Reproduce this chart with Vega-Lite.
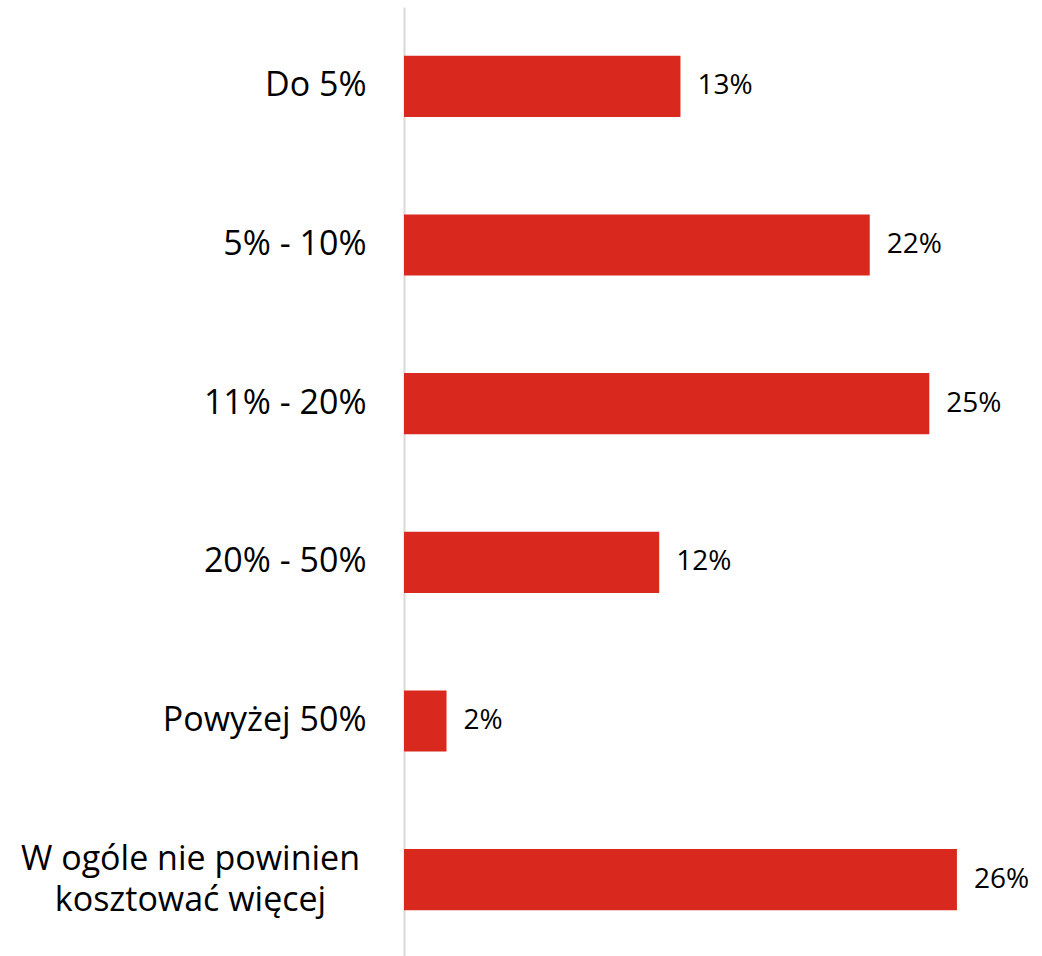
{
  "$schema": "https://vega.github.io/schema/vega-lite/v6.json",
  "autosize": {"type": "none"},
  "padding": {"left": 404, "top": 7, "right": 0, "bottom": 0},
  "width": 638,
  "height": 952,
  "background": "white",
  "config": {"view": {"stroke": null}, "font": "Open Sans", "axisY": {"labelLineHeight": 41}},
  "data": {
    "values": [
      {"category": "Do 5%", "value": 0.13},
      {"category": "5% - 10%", "value": 0.219},
      {"category": "11% - 20%", "value": 0.247},
      {"category": "20% - 50%", "value": 0.12},
      {"category": "Powyżej 50%", "value": 0.02},
      {"category": "W ogóle nie powinien kosztować więcej", "value": 0.26}
    ]
  },
  "encoding": {
    "y": {
      "field": "category",
      "type": "nominal",
      "sort": null,
      "scale": {"paddingInner": 0.614, "paddingOuter": 0.307},
      "axis": {
        "title": null,
        "ticks": false,
        "domainColor": "#D9D9D9",
        "domainWidth": 2,
        "labelFont": "Open Sans",
        "labelFontSize": 34,
        "labelColor": "#000000",
        "labelLimit": 500,
        "labelLineHeight": 41,
        "labelBaseline": "middle",
        "labelAlign": {"condition": {"test": "datum.value == 'W ogóle nie powinien kosztować więcej'", "value": "center"}, "value": "right"},
        "labelPadding": {"condition": {"test": "datum.value == 'W ogóle nie powinien kosztować więcej'", "value": 214}, "value": 38},
        "labelOffset": {"condition": {"test": "datum.value == 'W ogóle nie powinien kosztować więcej'", "value": -20}, "value": 0},
        "labelExpr": "datum.value == 'W ogóle nie powinien kosztować więcej' ? ['W ogóle nie powinien', 'kosztować więcej'] : datum.label"
      }
    },
    "x": {
      "field": "value",
      "type": "quantitative",
      "scale": {"domain": [0, 0.3], "nice": false},
      "axis": null
    }
  },
  "layer": [
    {"mark": {"type": "bar", "color": "#D9291F"}},
    {
      "mark": {"type": "text", "align": "left", "baseline": "middle", "dx": 17, "fontSize": 28, "font": "Open Sans", "color": "#000000"},
      "encoding": {"text": {"field": "value", "type": "quantitative", "format": ".0%"}}
    }
  ]
}
